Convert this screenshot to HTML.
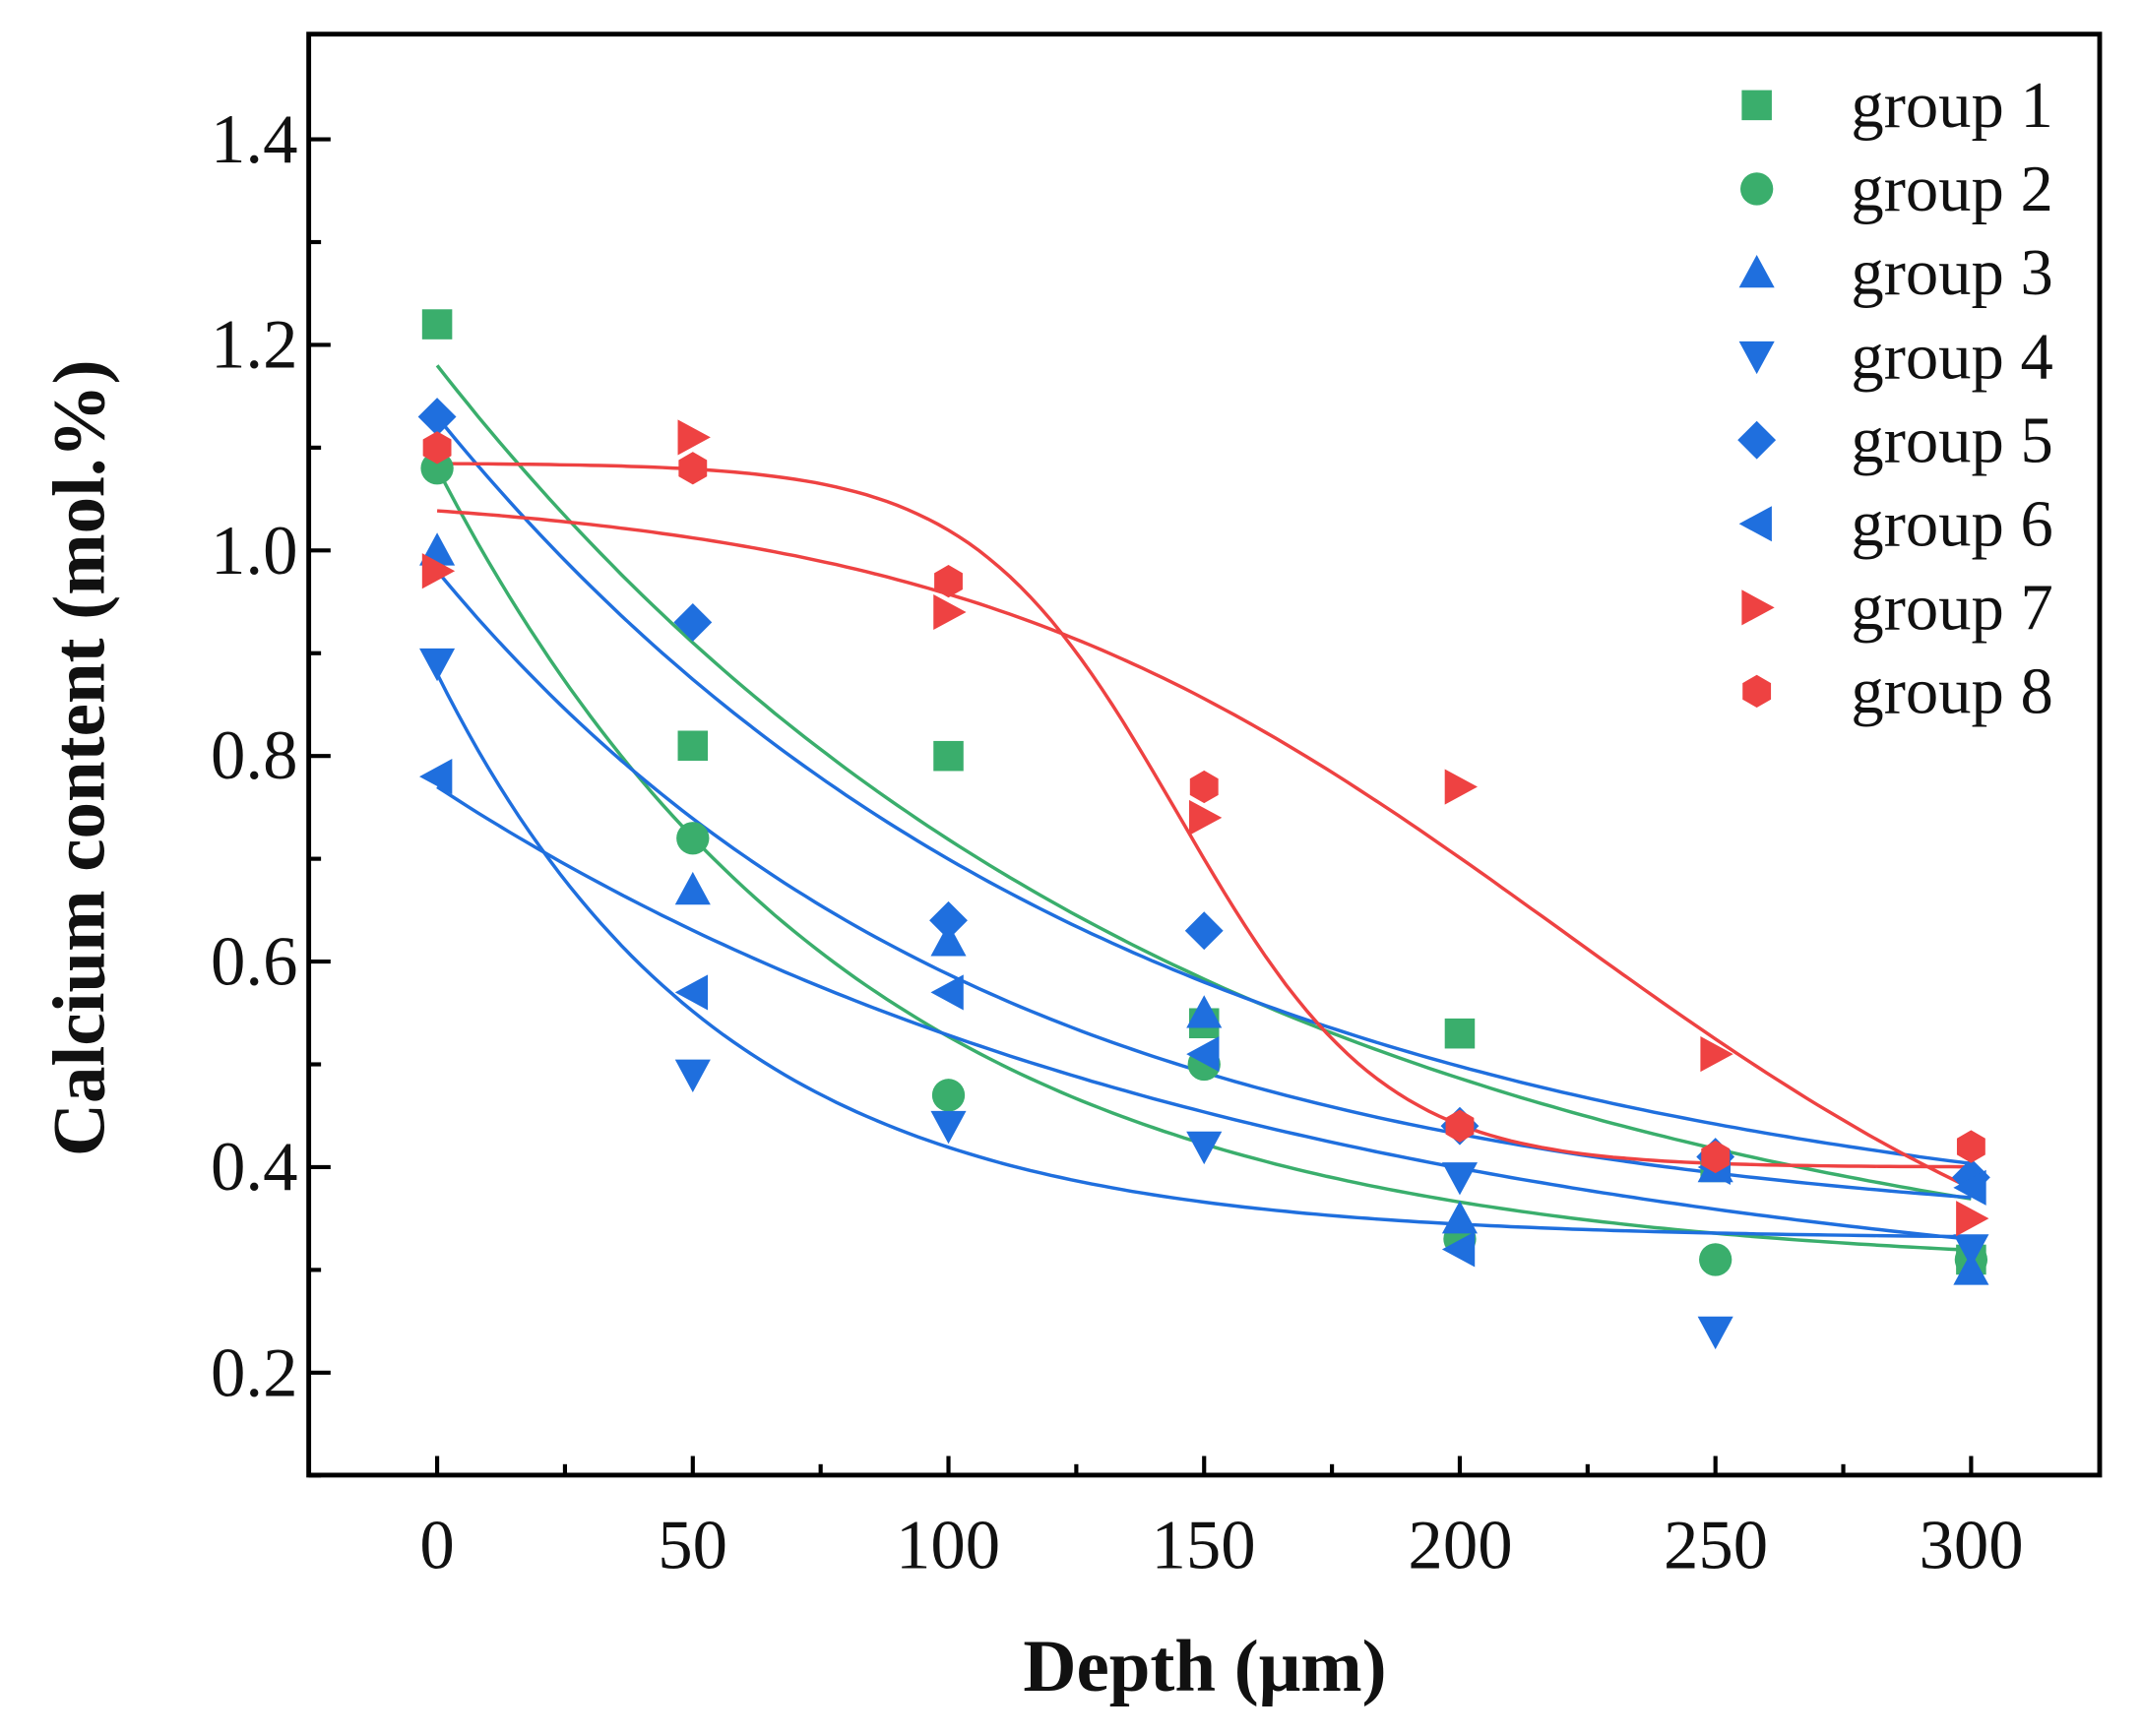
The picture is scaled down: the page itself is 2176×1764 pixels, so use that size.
<!DOCTYPE html>
<html><head><meta charset="utf-8"><style>
html,body{margin:0;padding:0;background:#fff;}
svg{display:block;}
text{font-family:"Liberation Serif",serif;fill:#111;}
</style></head><body>
<svg id="s" width="2176" height="1764" viewBox="0 0 1568 1271" preserveAspectRatio="none" xmlns="http://www.w3.org/2000/svg">
<rect x="0" y="0" width="1568" height="1271" fill="#fff"/>
<g id="curves"></g>
<g id="marks"></g>
<rect x="226" y="25" width="1311" height="1055" fill="none" stroke="#000" stroke-width="3.5"/>
<g id="ticks" stroke="#000" stroke-width="3"></g>
<g font-size="51" text-anchor="end">
<text x="218" y="119">1.4</text><text x="218" y="269">1.2</text><text x="218" y="420">1.0</text>
<text x="218" y="570">0.8</text><text x="218" y="721">0.6</text><text x="218" y="871">0.4</text><text x="218" y="1022">0.2</text>
</g>
<g font-size="51" text-anchor="middle">
<text x="320" y="1148">0</text><text x="507" y="1148">50</text><text x="694" y="1148">100</text>
<text x="881" y="1148">150</text><text x="1069" y="1148">200</text><text x="1256" y="1148">250</text><text x="1443" y="1148">300</text>
</g>
<text x="882" y="1238" font-size="54" font-weight="bold" text-anchor="middle">Depth (μm)</text>
<text transform="translate(76,555) rotate(-90)" font-size="54" font-weight="bold" text-anchor="middle">Calcium content (mol.%)</text>
<g id="legend" font-size="48"></g>
</svg>
<script>
const G='#3aae6c',B='#1f6fde',R='#ee4242';
const X=v=>320+v*3.743, Y=v=>102+(1.4-v)*752.5;
const ns='http://www.w3.org/2000/svg';
function el(p,t,a){const e=document.createElementNS(ns,t);for(const k in a)e.setAttribute(k,a[k]);document.getElementById(p).appendChild(e);return e;}
for(let i=0;i<=13;i++){const v=0.1+i*0.1;const y=Y(v);if(y<27)continue;const maj=(Math.round(v*10)%2===0);el('ticks','line',{x1:226,x2:226+(maj?16:9),y1:y,y2:y});}
for(let v=-25;v<=325;v+=25){const x=X(v);if(x<228||x>1535)continue;const maj=v%50===0;el('ticks','line',{x1:x,x2:x,y1:1080,y2:1080-(maj?14:8)});}
const exp=(c,a,t)=>x=>c+a*Math.exp(-x/t);
const bol=(a1,a2,x0,dx)=>x=>a2+(a1-a2)/(1+Math.exp((x-x0)/dx));
const curves=[[G,exp(0.25,0.93,146)],[G,exp(0.30,0.78,81)],[B,exp(0.32,0.81,132)],[B,exp(0.33,0.65,108)],[B,exp(0.33,0.55,55)],[B,exp(0.25,0.52,160)],[R,bol(1.06,0.2,220,60)],[R,bol(1.085,0.40,145,20)]];
curves.forEach(([c,f])=>{let d='';for(let x=0;x<=300;x+=2)d+=(x?'L':'M')+X(x).toFixed(1)+','+Y(f(x)).toFixed(1);el('curves','path',{d:d,fill:'none',stroke:c,'stroke-width':2.5});});
function mk(p,shape,c,x,y){const s=11;let pts;
 if(shape==='sq')return el(p,'rect',{x:x-s,y:y-s,width:2*s,height:2*s,fill:c});
 if(shape==='ci')return el(p,'circle',{cx:x,cy:y,r:s+1,fill:c});
 if(shape==='up')pts=[[x,y-s-2],[x+s+2,y+s],[x-s-2,y+s]];
 if(shape==='dn')pts=[[x,y+s+2],[x+s+2,y-s],[x-s-2,y-s]];
 if(shape==='di')pts=[[x,y-s-3],[x+s+3,y],[x,y+s+3],[x-s-3,y]];
 if(shape==='lt')pts=[[x-s-2,y],[x+s,y-s-2],[x+s,y+s+2]];
 if(shape==='rt')pts=[[x+s+2,y],[x-s,y-s-2],[x-s,y+s+2]];
 if(shape==='hx'){pts=[];for(let i=0;i<6;i++){const a=Math.PI/3*i+Math.PI/6;pts.push([x+12*Math.cos(a),y+12*Math.sin(a)]);}}
 return el(p,'polygon',{points:pts.map(q=>q.join(',')).join(' '),fill:c});}
const xs=[0,50,100,150,200,250,300];
const data=[['sq',G,[1.22,0.81,0.80,0.54,0.53,0.40,0.31]],['ci',G,[1.08,0.72,0.47,0.50,0.33,0.31,0.31]],
['up',B,[1.00,0.67,0.62,0.55,0.35,0.40,0.30]],['dn',B,[0.89,0.49,0.44,0.42,0.39,0.24,0.32]],
['di',B,[1.13,0.93,0.64,0.63,0.44,0.41,0.39]],['lt',B,[0.78,0.57,0.57,0.51,0.32,0.40,0.38]],
['rt',R,[0.98,1.11,0.94,0.74,0.77,0.51,0.35]],['hx',R,[1.10,1.08,0.97,0.77,0.44,0.41,0.42]]];
data.forEach(([sh,c,v])=>v.forEach((y,i)=>mk('marks',sh,c,X(xs[i]),Y(y))));
data.forEach(([sh,c],i)=>{const y=77+i*61.3;mk('legend',sh,c,1286,y);const t=el('legend','text',{x:1355,y:y+16});t.textContent='group '+(i+1);});
</script>
</body></html>
